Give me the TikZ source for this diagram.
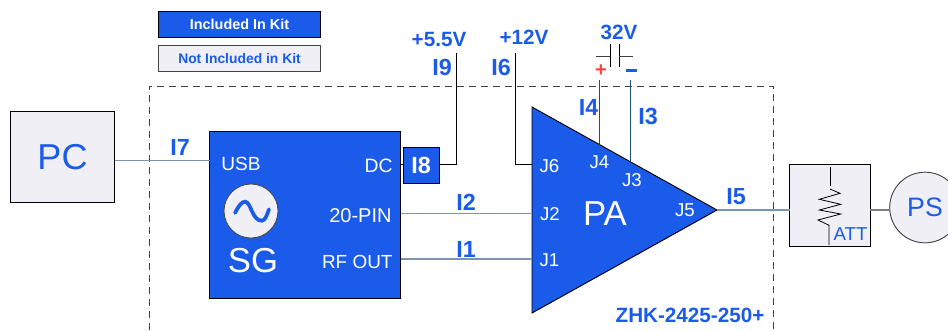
\documentclass[tikz,border=0pt]{standalone}
\usepackage{fontspec}
\setmainfont{Liberation Sans}
\definecolor{kitblue}{HTML}{1A5BEA}
\definecolor{kitgray}{HTML}{EFEFF5}
\definecolor{wiresteel}{HTML}{7D94B0}
\definecolor{wirenavy}{HTML}{1F4E79}
\definecolor{edgegray}{HTML}{444444}
\definecolor{plusred}{HTML}{F4443C}
\newcommand{\fs}[1]{\fontsize{#1}{#1}\selectfont}
\tikzset{
  every node/.style={inner sep=0pt,outer sep=0pt},
  graybox/.style={draw=black,line width=0.7pt,fill=kitgray,rectangle},
  wl/.style={text=kitblue,font=\fs{15.5}\bfseries},
  il/.style={text=kitblue,font=\fs{17.5}\bfseries},
  pin/.style={text=white,font=\fs{14}},
  wiresig/.style={draw=wiresteel,line width=1pt},
  wirepow/.style={draw=black,line width=0.65pt},
  wirebat/.style={draw=wirenavy,line width=0.65pt},
  kitdash/.style={draw=edgegray,line width=0.65pt,dash pattern=on 5.6pt off 3.4pt}
}
\begin{document}
\begin{tikzpicture}[x=0.75pt,y=-0.75pt]
\useasboundingbox (0,0) rectangle (948,330);
% legend
\node[draw=black,line width=0.7pt,fill=kitblue,minimum width=122pt,minimum height=19.5pt,text=white,font=\fs{10.8}\bfseries] (leg1) at (239.5,24.5) {Included In Kit};
\node[draw=edgegray,line width=0.7pt,fill=kitgray,minimum width=122pt,minimum height=19pt,text=kitblue,font=\fs{10.4}\bfseries] (leg2) at (239.5,58.5) {Not Included in Kit};
% kit outline
\coordinate (kbl) at (149,330);
\coordinate (ktl) at (149,86);
\coordinate (ktr) at (773,86);
\coordinate (kbr) at (773,330);
\draw[kitdash] (kbl) -- (ktl) -- (ktr) -- (kbr);
% boxes
\node[graybox,minimum width=78pt,minimum height=68pt,text=kitblue,font=\fs{27}] (pc) at (62.5,157) {PC};
\node[draw=black,line width=0.7pt,fill=kitblue,minimum width=143.5pt,minimum height=125.5pt] (sg) at (305.25,214.75) {};
\node[draw=black,line width=0.7pt,fill=kitblue,minimum width=27pt,minimum height=27pt,il,text=white] (i8) at (421,165) {I8};
\node[circle,draw=edgegray,line width=0.6pt,fill=kitgray,minimum size=40.5pt] (osc) at (251,211) {};
\draw[kitblue,line width=2.8pt,line cap=round] (235,213) .. controls (239,205) and (242,201.7) .. (245,201.7) .. controls (251,201.7) and (252,220.7) .. (261.7,220.7) .. controls (265,220.7) and (267,215) .. (269,209.3);
\node[graybox,minimum width=60.5pt,minimum height=61.5pt] (att) at (829.75,205) {};
\node[circle,draw=edgegray,line width=0.7pt,fill=kitgray,minimum size=53pt,text=kitblue,font=\fs{20}] (ps) at (925,207.5) {PS};
% amplifier
\coordinate (patop) at (532,107);
\coordinate (pabot) at (532,313);
\coordinate (patip) at (717,210);
\draw[fill=kitblue,draw=black,line width=0.7pt,line join=miter] (patop) -- (patip) -- (pabot) -- cycle;
% connection points
\coordinate (pcusb) at (114.5,160.5);
\coordinate (sgusb) at (209.5,160.5);
\coordinate (sgdc) at (401,164);
\coordinate (i8w) at (403,164);
\coordinate (i8e) at (439,164);
\coordinate (c9) at (456,164);
\coordinate (t9) at (456,53);
\coordinate (sg20) at (401,213.5);
\coordinate (j2) at (532,213.5);
\coordinate (sgrf) at (401,259);
\coordinate (j1) at (532,259);
\coordinate (j6) at (532,164);
\coordinate (c6) at (515,164);
\coordinate (t6) at (515,53);
\coordinate (j4) at (599.7,144.6);
\coordinate (t4) at (599.7,80);
\coordinate (j3) at (630.3,161.5);
\coordinate (t3) at (630.3,80);
\coordinate (attw) at (789.5,210);
\coordinate (atte) at (870,210);
\coordinate (psw) at (889.7,210);
% wires
\draw[wiresig] (pcusb) -- (sgusb);
\draw[wirepow] (sgdc) -- (i8w);
\draw[wirepow] (i8e) -- (c9) -- (t9);
\draw[wiresig] (sg20) -- (j2);
\draw[wiresig] (sgrf) -- (j1);
\draw[wirepow] (j6) -- (c6) -- (t6);
\draw[wirebat] (j4) -- (t4);
\draw[wirebat] (j3) -- (t3);
\draw[wiresig] (patip) -- (attw);
\draw[draw=gray,line width=1.2pt] (atte) -- (psw);
% attenuator resistor
\draw[black,line width=0.65pt] (830,167) -- (830,186);
\draw[black,line width=0.6pt,line join=miter] (830,189) -- (840,193.3) -- (819.3,199.3) -- (840.7,204.3) -- (819.3,210) -- (840.7,214) -- (818,220) -- (829,225.3) -- (829,245);
\node[text=kitblue,font=\fs{14}] (attl) at (850.5,234.5) {ATT};
% capacitor
\draw[black,line width=0.7pt] (610.3,44) -- (610.3,66.7);
\draw[black,line width=0.7pt] (619.3,44) -- (619.3,66.7);
\draw[black!75,line width=0.6pt] (596,56.7) -- (610.3,56.7);
\draw[black!75,line width=0.6pt] (619.3,56.7) -- (633,56.7);
\node[text=plusred,font=\fs{15}\bfseries] (plus) at (601,71) {+};
\node[fill=kitblue,minimum width=8.2pt,minimum height=2pt] (minus) at (631.3,70.3) {};
% SG labels
\node[text=white,font=\fs{14.3}] (lusb) at (241,164) {USB};
\node[text=white,font=\fs{14.5},anchor=east] (ldc) at (392.5,166) {DC};
\node[text=white,font=\fs{15},anchor=east] (l20) at (391.5,216) {20-PIN};
\node[text=white,font=\fs{14.2},anchor=east] (lrf) at (392.5,262) {RF OUT};
\node[text=white,font=\fs{26}] (lsg) at (253,261) {SG};
% PA labels
\node[pin] (pj6) at (549.5,166) {J6};
\node[pin] (pj4) at (599.5,162) {J4};
\node[pin] (pj3) at (632,180) {J3};
\node[pin] (pj2) at (550,214.5) {J2};
\node[pin] (pj5) at (685,210) {J5};
\node[pin] (pj1) at (549.5,260) {J1};
\node[text=white,font=\fs{26}] (lpa) at (605,214) {PA};
% wire labels
\node[il] (l7) at (180,147.5) {I7};
\node[il] (l2) at (466,202) {I2};
\node[il] (l1) at (466,249) {I1};
\node[il] (l9) at (442,67) {I9};
\node[il] (l6) at (501,67) {I6};
\node[il] (l4) at (588.5,107) {I4};
\node[il] (l3) at (648,116.5) {I3};
\node[il] (l5) at (736,196.5) {I5};
\node[wl] (v55) at (439,39) {+5.5V};
\node[wl] (v12) at (524,37) {+12V};
\node[wl] (v32) at (619,32.5) {32V};
\node[wl] (lzhk) at (690,315) {ZHK-2425-250+};
\end{tikzpicture}
\end{document}
